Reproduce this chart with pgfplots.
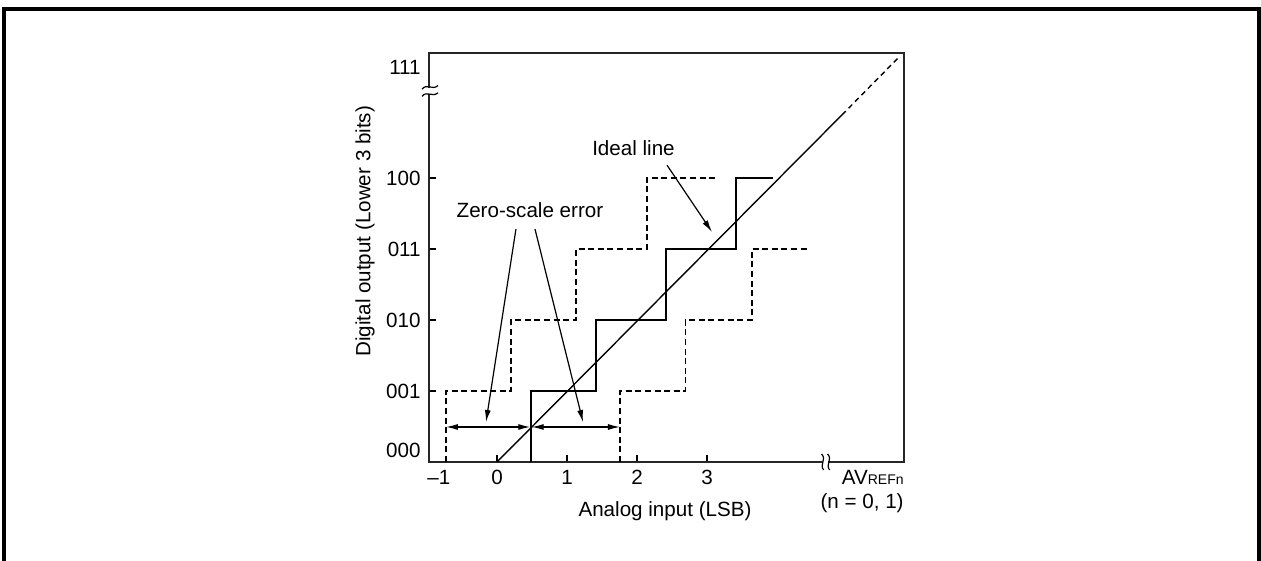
\documentclass[border=0pt]{standalone}
\usepackage{fontspec}
\setmainfont{Liberation Sans}
\usepackage{pgfplots}
\pgfplotsset{compat=1.18}
\usetikzlibrary{arrows.meta}
\newcommand{\lblfont}{\fontsize{10.3}{12}\selectfont}
\begin{document}
\begin{tikzpicture}[x=1pt,y=1pt]
\useasboundingbox (-214.5,-49.5) rectangle (416,231);
\draw[line width=2pt] (-212.5,-49.5) -- (-212.5,226.25) -- (414.75,226.25) -- (414.75,-49.5);
\begin{axis}[
  at={(0,0)}, anchor=south west, scale only axis,
  width=237.5pt, height=204.5pt,
  xmin=-0.971, xmax=5.814, ymin=0, ymax=5.76,
  axis line style={line width=1pt, black!85},
  clip=false,
  tick align=inside,
  xtick pos=bottom, ytick pos=left,
  major tick length=3.5pt,
  tick style={line width=0.6pt, black},
  xtick={0,1,2,3}, xticklabels={0,1,2,3},
  ytick={1,2,3,4}, yticklabels={001,010,011,100},
  extra x ticks={-0.83}, extra x tick labels={–1},
  extra y ticks={0.17,5.55}, extra y tick labels={000,111},
  extra x tick style={major tick length=0pt},
  extra y tick style={major tick length=0pt},
  ticklabel style={font=\lblfont},
  xticklabel style={anchor=north, inner sep=0pt, yshift=-4pt},
  yticklabel style={anchor=east, inner sep=0pt, xshift=-4pt},
]
% ideal line
\addplot[black, line width=0.7pt] coordinates {(0,0) (4.93,4.89)};
\addplot[black, line width=0.7pt, dash pattern=on 2.6pt off 2pt] coordinates {(4.93,4.89) (5.74,5.70)};
% actual (solid) staircase
\addplot[black, line width=0.8pt] coordinates {(0.486,0) (0.486,1) (1.414,1) (1.414,2) (2.414,2) (2.414,3) (3.414,3) (3.414,4) (3.94,4)};
% dashed staircases (zero-scale error limits)
\addplot[black, line width=0.8pt, dash pattern=on 3pt off 1.8pt] coordinates {(-0.729,0) (-0.729,1) (0.2,1) (0.2,2) (1.13,2) (1.13,3) (2.14,3) (2.14,4) (3.14,4)};
\addplot[black, line width=0.8pt, dash pattern=on 3pt off 1.8pt] coordinates {(1.757,0) (1.757,1) (2.69,1) (2.69,2) (3.64,2) (3.64,3) (4.46,3)};
% annotations
\draw[line width=0.6pt, {Latex[length=6pt,width=3pt]}-{Latex[length=6pt,width=3pt]}] (axis cs:-0.729,0.493) -- (axis cs:0.476,0.493);
\draw[line width=0.6pt, {Latex[length=6pt,width=3pt]}-{Latex[length=6pt,width=3pt]}] (axis cs:0.496,0.493) -- (axis cs:1.757,0.493);
\draw[line width=0.6pt, -{Latex[length=6pt,width=3pt]}] (axis cs:0.271,3.28) -- (axis cs:-0.157,0.563);
\draw[line width=0.6pt, -{Latex[length=6pt,width=3pt]}] (axis cs:0.543,3.28) -- (axis cs:1.229,0.563);
\draw[line width=0.6pt, -{Latex[length=6pt,width=3pt]}] (axis cs:2.429,4.18) -- (axis cs:3.071,3.24);
\node[font=\lblfont, anchor=base, inner sep=0pt] at (axis cs:0.471,3.45) {Zero-scale error};
\node[font=\lblfont, anchor=base, inner sep=0pt] at (axis cs:1.95,4.32) {Ideal line};
\node[font=\lblfont, anchor=base, inner sep=0pt] at (axis cs:2.4,-0.77) {Analog input (LSB)};
\node[font=\lblfont, anchor=base east, inner sep=0pt] at (axis cs:5.814,-0.31) {AV{\fontsize{7}{8}\selectfont REFn}};
\node[font=\lblfont, anchor=base east, inner sep=0pt] at (axis cs:5.814,-0.648) {(n = 0, 1)};
\node[font=\lblfont, rotate=90, inner sep=0pt] at (axis cs:-1.886,3.25) {Digital output (Lower 3 bits)};
\end{axis}
% axis break marks
\fill[white] (-1.2,183.8) rectangle (1.2,187.2);
\draw[line width=0.6pt] (-3.5,182.8) .. controls (-1,186) and (1.5,182) .. (4.5,184.6);
\draw[line width=0.6pt] (-3.5,186.4) .. controls (-1,189.6) and (1.5,185.6) .. (4.5,188.2);
\fill[white] (197.0,-1.2) rectangle (199.5,1.2);
\draw[line width=0.6pt] (196.3,4) .. controls (199,1) and (195,-1) .. (197.3,-4);
\draw[line width=0.6pt] (199.3,4) .. controls (202,1) and (198,-1) .. (200.3,-4);
\end{tikzpicture}
\end{document}
